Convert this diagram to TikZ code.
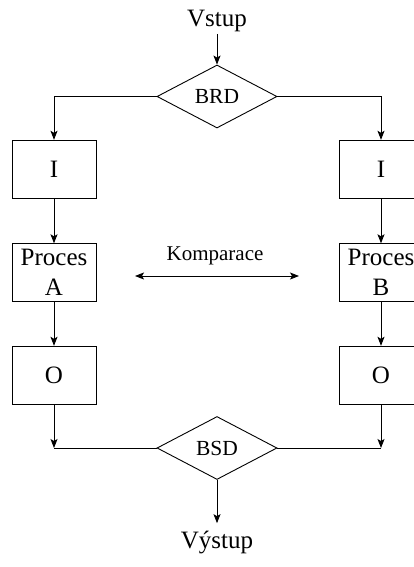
\documentclass[tikz,border=0pt]{standalone}
\usepackage{fontspec}
\setmainfont{Liberation Serif}
\usetikzlibrary{arrows.meta,positioning,shapes.geometric}
\tikzset{
  % bloky
  blok/.style={rectangle,draw,thin,minimum width=84pt,minimum height=58pt,inner sep=0pt,align=center},
  rozh/.style={diamond,draw,minimum width=120pt,minimum height=63pt,inner sep=0pt,aspect=1.9,
    font=\fontsize{21.5}{25}\selectfont},
  % spojky
  sipka/.style={-{Stealth[length=9pt,width=7pt,inset=2pt]}},
  sipkabi/.style={{Stealth[length=9pt,width=7pt,inset=2pt]}-{Stealth[length=9pt,width=7pt,inset=2pt]}},
}

\begin{document}
\begin{tikzpicture}[
  x=1pt,y=1pt,line width=0.9pt,
  every node/.style={font=\fontsize{25}{30}\selectfont},
]
\clip (0,0) rectangle (414,-567);

%% vstup a vetveni
\node[anchor=base,inner sep=1pt] (vstup) at (217,-27) {Vstup};
\node[rozh] (brd) at (217,-96.5) {BRD};
\draw[sipka] (vstup.south) -- (brd.north);

%% dva sloupce (A vlevo, B vpravo)
\foreach \s/\x/\lbl in {L/54/A, R/381/B}{
  \node[blok] (in\s) at (\x,-169) {I};
  \node[blok] (proc\s) at (\x,-272.5) {Proces\\\lbl};
  \node[blok] (out\s) at (\x,-375) {O};
  \draw[sipka] (in\s) -- (proc\s);
  \draw[sipka] (proc\s) -- (out\s);
}
\draw[sipka] (brd.west) -| (inL.north);
\draw[sipka] (brd.east) -| (inR.north);

%% sjednoceni
\node[rozh] (bsd) at (217,-448) {BSD};
\coordinate (joinL) at (outL.south |- bsd.west);
\coordinate (joinR) at (outR.south |- bsd.east);
\draw[sipka] (outL.south) -- (joinL);
\draw[sipka] (outR.south) -- (joinR);
\draw (joinL) -- (bsd.west);
\draw (joinR) -- (bsd.east);

\node[anchor=base,inner sep=1pt] (vystup) at (217,-548) {Výstup};
\draw[sipka,shorten >=6pt] (bsd.south) -- (vystup.north);

%% komparace
\node[font=\fontsize{21}{24}\selectfont] (komp) at (215,-256) {Komparace};
\coordinate (kompW) at (135,-276);
\coordinate (kompE) at (299,-276);
\draw[sipkabi] (kompW) -- (kompE);
\end{tikzpicture}
\end{document}
